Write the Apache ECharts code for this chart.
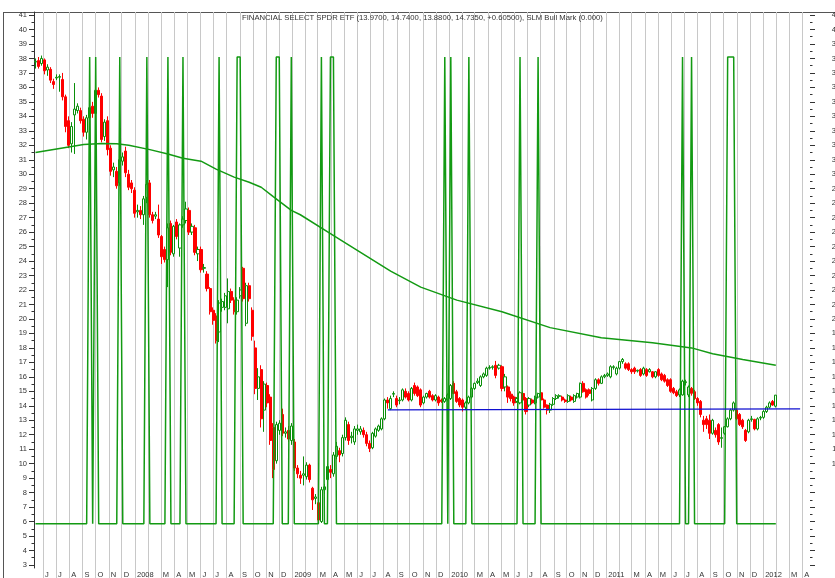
<!DOCTYPE html>
<html>
<head>
<meta charset="utf-8">
<title>Financial Select SPDR ETF</title>
<script src="https://cdn.jsdelivr.net/npm/echarts@6/dist/echarts.min.js"></script>
<style>
  html, body { margin: 0; padding: 0; background: #fff; }
  #main { width: 835px; height: 578px; }
</style>
</head>
<body>
<div id="main"></div>
<script>
var title = "FINANCIAL SELECT SPDR ETF (13.9700, 14.7400, 13.8800, 14.7350, +0.60500), SLM Bull Mark (0.000)";

// weekly bars, the first one is the week of 14 May 2007
var weekStart = [2007, 4, 14];

// [open, close, low, high] for each week
var ohlc = [
  [37.75, 37.8, 37.3, 38.0], [37.85, 37.45, 37.3, 38.1], [37.65, 38.0, 37.5, 38.2], [37.9, 37.15, 36.9, 38.0],
  [37.2, 37.4, 36.8, 37.6], [37.25, 36.5, 36.3, 37.4], [36.4, 36.2, 35.9, 36.6], [36.65, 36.7, 36.5, 36.9],
  [36.7, 36.75, 35.7, 36.9], [36.55, 35.35, 35.1, 37.0], [35.35, 33.3, 32.9, 35.5], [33.7, 32.0, 31.8, 34.0],
  [32.1, 33.3, 31.5, 33.6], [34.1, 34.5, 31.4, 36.3], [34.4, 34.7, 34.2, 34.9], [34.4, 33.7, 33.5, 34.6],
  [33.8, 32.9, 32.6, 34.0], [32.9, 33.9, 32.4, 34.1], [33.9, 34.6, 33.6, 34.8], [34.7, 34.2, 33.9, 35.0],
  [34.2, 35.8, 34.0, 36.0], [35.8, 35.5, 35.3, 36.0], [35.4, 32.4, 32.2, 35.6], [32.6, 33.6, 32.3, 33.8],
  [33.7, 31.7, 31.3, 34.0], [31.8, 30.2, 29.9, 32.0], [30.3, 30.5, 29.8, 30.8], [30.2, 29.2, 29.0, 30.5],
  [29.4, 31.0, 29.2, 31.2], [30.9, 31.2, 30.6, 31.5], [31.6, 30.1, 29.8, 31.9], [30.0, 29.1, 28.9, 30.3],
  [29.4, 29.0, 28.7, 29.6], [28.9, 27.3, 27.0, 29.1], [27.4, 27.5, 27.0, 27.9], [27.5, 27.2, 26.9, 27.8],
  [27.2, 28.3, 26.5, 28.5], [28.4, 29.3, 28.0, 29.6], [29.4, 27.2, 27.0, 29.6], [27.2, 26.8, 26.6, 27.4],
  [27.1, 27.2, 26.9, 27.4], [26.9, 25.8, 25.6, 27.9], [25.7, 24.3, 23.8, 25.8], [24.8, 24.1, 23.9, 25.0],
  [24.1, 26.3, 22.2, 26.6], [26.6, 24.6, 24.4, 26.8], [24.5, 26.4, 24.3, 26.5], [26.7, 25.7, 25.5, 26.9],
  [24.9, 26.5, 24.3, 26.6], [26.5, 26.9, 26.3, 27.1], [26.8, 27.6, 26.6, 28.1], [27.5, 26.0, 25.8, 27.7],
  [26.0, 26.4, 25.8, 26.6], [26.3, 24.6, 24.4, 26.5], [24.5, 24.8, 24.0, 25.0], [24.8, 23.4, 23.2, 25.0],
  [23.5, 23.55, 23.2, 23.8], [23.1, 22.1, 21.9, 23.3], [22.1, 20.5, 20.3, 22.2], [20.6, 19.9, 19.6, 20.8],
  [20.2, 18.5, 18.3, 20.4], [19.1, 21.1, 18.4, 21.3], [20.8, 21.2, 20.5, 21.4], [20.8, 21.6, 20.6, 21.8],
  [20.7, 21.9, 19.7, 22.8], [21.9, 21.3, 21.1, 22.1], [21.3, 20.5, 20.3, 21.5], [20.5, 21.3, 20.3, 21.5],
  [21.6, 22.0, 21.4, 22.2], [23.5, 21.4, 21.2, 23.6], [19.7, 22.3, 19.5, 22.5], [22.3, 21.4, 21.2, 22.5],
  [20.6, 18.8, 18.5, 20.8], [18.0, 15.2, 14.8, 18.5], [15.2, 16.0, 14.4, 16.6], [16.5, 13.1, 12.5, 16.8],
  [13.7, 15.5, 12.2, 15.7], [15.4, 14.2, 13.9, 15.6], [14.6, 11.6, 11.3, 14.8], [12.5, 9.6, 9.0, 12.8],
  [10.2, 12.7, 10.0, 12.9], [12.3, 12.8, 12.0, 13.0], [13.4, 12.1, 11.9, 13.8], [12.1, 12.2, 11.8, 12.5],
  [12.3, 11.7, 11.5, 12.6], [11.6, 12.6, 11.3, 12.8], [11.5, 9.7, 9.5, 11.7], [9.7, 9.3, 9.0, 9.9],
  [9.2, 9.0, 8.6, 9.5], [9.2, 9.3, 8.5, 10.5], [9.1, 9.9, 8.9, 10.1], [9.9, 8.9, 8.7, 10.0],
  [8.3, 7.5, 6.8, 8.4], [7.6, 7.7, 7.2, 7.9], [7.3, 6.1, 5.9, 7.4], [6.0, 8.2, 5.9, 8.4],
  [8.2, 8.4, 7.9, 8.6], [8.9, 9.8, 8.6, 10.0], [9.6, 9.4, 9.0, 9.9], [9.3, 10.6, 9.1, 10.8],
  [10.5, 11.2, 10.3, 11.5], [10.9, 10.6, 10.1, 11.1], [10.7, 11.8, 10.5, 12.0], [11.8, 13.0, 11.6, 13.2],
  [12.7, 11.6, 11.3, 12.9], [11.8, 11.9, 11.4, 12.2], [11.5, 12.4, 11.3, 12.6], [12.3, 12.4, 12.0, 12.7],
  [12.2, 12.4, 12.0, 12.6], [12.3, 12.0, 11.8, 12.5], [12.0, 11.4, 11.2, 12.2], [11.4, 11.05, 10.8, 11.6],
  [11.1, 12.1, 11.0, 12.2], [11.9, 12.4, 11.8, 12.5], [12.3, 12.6, 12.2, 12.7], [12.4, 13.1, 12.3, 13.2],
  [13.1, 14.4, 13.0, 14.5], [14.4, 14.2, 13.8, 14.6], [13.8, 14.5, 13.7, 14.7], [14.8, 14.85, 14.6, 15.0],
  [14.5, 14.05, 13.9, 14.7], [14.35, 14.4, 14.1, 14.6], [14.4, 15.1, 14.3, 15.2], [15.0, 14.6, 14.5, 15.2],
  [14.85, 14.4, 14.3, 15.0], [14.4, 15.2, 14.3, 15.3], [15.4, 14.85, 14.7, 15.6], [15.3, 14.7, 14.6, 15.4],
  [15.1, 14.05, 13.9, 15.2], [14.2, 14.6, 14.1, 14.7], [14.6, 14.85, 14.5, 14.9], [15.0, 14.6, 14.5, 15.1],
  [14.7, 14.4, 14.3, 14.8], [14.4, 14.7, 14.3, 14.8], [14.6, 14.2, 14.0, 14.7], [14.4, 14.3, 14.2, 14.5],
  [14.3, 14.5, 14.2, 14.6], [14.4, 14.75, 14.3, 14.85], [14.5, 15.4, 14.4, 15.5], [15.55, 14.85, 14.8, 15.7],
  [14.97, 14.3, 14.2, 15.1], [14.5, 14.05, 13.9, 14.6], [14.4, 13.9, 13.6, 14.5], [13.9, 14.2, 13.7, 14.3],
  [14.2, 14.6, 14.1, 14.7], [14.6, 15.2, 14.5, 15.3], [15.2, 15.55, 15.1, 15.6], [15.6, 15.7, 15.5, 15.9],
  [15.4, 16.0, 15.3, 16.1], [16.0, 16.2, 15.9, 16.3], [16.1, 16.6, 16.0, 16.7], [16.6, 16.65, 16.5, 16.8],
  [16.65, 16.7, 16.5, 16.8], [16.8, 16.1, 15.9, 17.1], [16.6, 16.8, 16.5, 16.9], [16.7, 15.2, 15.0, 16.8],
  [15.3, 16.0, 15.0, 16.2], [15.3, 14.6, 14.2, 15.4], [14.8, 14.5, 14.3, 15.0], [14.6, 14.2, 14.0, 14.7],
  [14.3, 14.5, 14.2, 14.6], [14.2, 14.9, 14.1, 15.0], [14.85, 14.4, 14.3, 15.0], [14.5, 13.6, 13.4, 14.6],
  [14.05, 14.5, 13.9, 14.6], [14.4, 14.2, 14.1, 14.5], [14.2, 14.6, 14.1, 14.7], [14.6, 14.85, 14.5, 14.9],
  [14.9, 14.4, 14.3, 15.0], [14.4, 13.9, 13.8, 14.5], [14.05, 13.7, 13.4, 14.1], [13.7, 14.1, 13.5, 14.2],
  [14.1, 14.5, 14.0, 14.6], [14.5, 14.7, 14.4, 14.8], [14.65, 14.7, 14.5, 14.8], [14.6, 14.4, 14.3, 14.7],
  [14.4, 14.3, 14.2, 14.5], [14.3, 14.7, 14.2, 14.8], [14.6, 14.4, 14.3, 14.7], [14.3, 14.7, 14.2, 14.8],
  [14.6, 14.85, 14.5, 14.9], [14.6, 15.55, 14.5, 15.6], [15.55, 14.97, 14.9, 15.7], [15.1, 14.6, 14.5, 15.2],
  [15.1, 14.85, 14.7, 15.2], [14.4, 15.2, 14.3, 15.3], [15.2, 15.8, 15.1, 15.9], [15.8, 15.55, 15.4, 15.9],
  [15.55, 16.0, 15.5, 16.1], [16.0, 16.1, 15.9, 16.2], [16.1, 16.2, 16.0, 16.3], [16.0, 16.7, 15.9, 16.8],
  [16.65, 16.7, 16.5, 16.8], [16.2, 16.6, 16.1, 16.7], [16.6, 17.05, 16.5, 17.1], [17.05, 17.2, 16.9, 17.3],
  [16.9, 16.6, 16.5, 17.0], [16.9, 16.5, 16.4, 17.0], [16.5, 16.35, 16.2, 16.6], [16.6, 16.35, 16.2, 16.7],
  [16.4, 16.45, 16.3, 16.5], [16.5, 16.1, 16.0, 16.6], [16.2, 16.6, 16.1, 16.7], [16.5, 16.1, 16.0, 16.6],
  [16.35, 16.5, 16.3, 16.6], [16.35, 16.0, 15.9, 16.4], [16.0, 16.35, 15.9, 16.4], [16.5, 16.1, 16.0, 16.6],
  [16.2, 15.8, 15.7, 16.3], [16.1, 15.7, 15.6, 16.2], [15.8, 15.4, 15.3, 15.9], [15.8, 15.0, 14.9, 15.9],
  [15.2, 14.9, 14.8, 15.3], [14.97, 14.7, 14.6, 15.1], [14.75, 15.1, 14.6, 15.2], [14.75, 15.7, 14.7, 15.8],
  [15.6, 15.66, 15.4, 15.8], [14.75, 15.3, 14.6, 15.4], [15.2, 14.86, 14.7, 15.3], [14.97, 14.5, 14.4, 15.1],
  [14.5, 14.2, 14.0, 14.6], [14.3, 13.4, 13.2, 14.4], [13.0, 12.7, 12.2, 13.3], [13.1, 12.7, 12.4, 13.3],
  [13.0, 12.1, 11.7, 13.4], [12.1, 13.0, 12.0, 13.1], [12.3, 12.0, 11.8, 12.5], [12.7, 11.5, 11.3, 12.8],
  [11.75, 11.8, 11.1, 12.5], [12.1, 12.55, 12.0, 12.6], [12.55, 13.1, 12.5, 13.2], [13.1, 13.7, 13.0, 13.8],
  [13.7, 14.2, 13.6, 14.3], [13.7, 13.1, 13.0, 13.8], [13.4, 12.7, 12.6, 13.5], [13.0, 12.55, 12.4, 13.1],
  [12.3, 11.6, 11.5, 12.4], [12.2, 13.0, 12.1, 13.1], [13.05, 13.1, 12.9, 13.3], [13.06, 12.4, 12.3, 13.1],
  [12.4, 13.1, 12.3, 13.2], [13.15, 13.2, 13.0, 13.3], [13.2, 13.6, 13.1, 13.7], [13.6, 13.9, 13.5, 14.0],
  [13.9, 14.2, 13.8, 14.3], [14.3, 14.05, 14.0, 14.4], [13.97, 14.735, 13.88, 14.74]
];

// weeks (first, last index) where the SLM Bull Mark is on
var bullRuns = [[18, 18], [20, 20], [28, 28], [37, 37], [44, 44], [49, 49], [61, 61], [67, 68], [80, 81],
  [85, 85], [95, 95], [98, 99], [136, 136], [138, 138], [144, 144], [161, 161], [167, 167], [215, 215],
  [218, 218], [230, 232]];
// off / on, as the indicator is laid over the price scale
var bullLevels = [5.85, 38.1];

// long moving average, [week index, value]
var maPoints = [
  [0, 31.5], [10, 31.85], [16, 32.05], [22, 32.13], [27, 32.1], [31, 32.0], [38, 31.7], [44, 31.4],
  [49, 31.1], [55, 30.9], [60, 30.35], [66, 29.8], [71, 29.45], [75, 29.1], [79, 28.45], [85, 27.5],
  [88, 27.2], [98, 25.9], [108, 24.6], [118, 23.3], [128, 22.2], [140, 21.3], [155, 20.5], [171, 19.4],
  [188, 18.7], [205, 18.35], [218, 18.0], [225, 17.6], [235, 17.2], [246, 16.8]
];

// blue support line
var trendLine = [['2009-08-11', 13.72], ['2012-03-27', 13.78]];

var yTicks = [3, 4, 5, 6, 7, 8, 9, 10, 11, 12, 13, 14, 15, 16, 17, 18, 19, 20, 21, 22, 23, 24, 25, 26, 27, 28,
  29, 30, 31, 32, 33, 34, 35, 36, 37, 38, 39, 40, 41];
var yMinorTicks = [3.5, 4.5, 5.5, 6.5, 7.5, 8.5, 9.5, 10.5, 11.5, 12.5, 13.5, 14.5, 15.5, 16.5, 17.5, 18.5,
  19.5, 20.5, 21.5, 22.5, 23.5, 24.5, 25.5, 26.5, 27.5, 28.5, 29.5, 30.5, 31.5, 32.5, 33.5, 34.5, 35.5, 36.5,
  37.5, 38.5, 39.5, 40.5];

var monthStarts = [
  '2007-06-01', '2007-07-01', '2007-08-01', '2007-09-01', '2007-10-01', '2007-11-01', '2007-12-01',
  '2008-01-01', '2008-02-01', '2008-03-01', '2008-04-01', '2008-05-01', '2008-06-01', '2008-07-01',
  '2008-08-01', '2008-09-01', '2008-10-01', '2008-11-01', '2008-12-01',
  '2009-01-01', '2009-02-01', '2009-03-01', '2009-04-01', '2009-05-01', '2009-06-01', '2009-07-01',
  '2009-08-01', '2009-09-01', '2009-10-01', '2009-11-01', '2009-12-01',
  '2010-01-01', '2010-02-01', '2010-03-01', '2010-04-01', '2010-05-01', '2010-06-01', '2010-07-01',
  '2010-08-01', '2010-09-01', '2010-10-01', '2010-11-01', '2010-12-01',
  '2011-01-01', '2011-02-01', '2011-03-01', '2011-04-01', '2011-05-01', '2011-06-01', '2011-07-01',
  '2011-08-01', '2011-09-01', '2011-10-01', '2011-11-01', '2011-12-01',
  '2012-01-01', '2012-02-01', '2012-03-01', '2012-04-01'
];
// January shows the year, February is hidden under it
var monthInitials = ['', '', 'M', 'A', 'M', 'J', 'J', 'A', 'S', 'O', 'N', 'D'];

var xRange = ['2007-05-11', '2012-04-19'];

var font = 'Liberation Sans, Arial, sans-serif';
var textColor = '#333';
var green = '#139a13';

function toTime(s) {
  var p = s.split('-');
  return new Date(+p[0], +p[1] - 1, +p[2]).getTime();
}

function weekDate(i) {
  return new Date(weekStart[0], weekStart[1], weekStart[2] + 7 * i, 12).getTime();
}

function isBull(i) {
  for (var k = 0; k < bullRuns.length; k++) {
    if (i >= bullRuns[k][0] && i <= bullRuns[k][1]) return true;
  }
  return false;
}

var candleData = ohlc.map(function (d, i) {
  return [weekDate(i), d[0], d[1], d[2], d[3]];
});
var bullData = ohlc.map(function (d, i) {
  return [weekDate(i), bullLevels[isBull(i) ? 1 : 0]];
});
var maData = maPoints.map(function (p) {
  return [weekDate(p[0]), p[1]];
});
var trendData = trendLine.map(function (p) {
  return [toTime(p[0]), p[1]];
});
var monthValues = monthStarts.map(toTime);

var chartDom = document.getElementById('main');
var myChart = echarts.init(chartDom, null, { renderer: 'canvas' });
var option;

function yAxisDef(position, ticks, tickLen, withLabels) {
  return {
    type: 'value',
    position: position,
    min: 2.79,
    max: 41.21,
    axisLine: { show: position === 'left' && withLabels, lineStyle: { color: '#333', width: 1 } },
    axisTick: { show: true, length: tickLen, customValues: ticks, lineStyle: { color: '#333', width: 1 } },
    axisLabel: withLabels ? {
      show: true,
      customValues: ticks,
      fontSize: 7.5,
      fontFamily: font,
      color: textColor,
      margin: position === 'left' ? 7 : 30,
      align: 'right'
    } : { show: false },
    splitLine: { show: false }
  };
}

option = {
  animation: false,
  backgroundColor: '#ffffff',
  title: {
    text: title,
    left: 242,
    top: 14,
    padding: 0,
    textStyle: { fontSize: 7.7, fontWeight: 'normal', fontFamily: font, color: textColor }
  },
  grid: { left: 34, right: 25, top: 12, bottom: 10, outerBoundsMode: 'none', containLabel: false },
  xAxis: {
    type: 'value',
    min: toTime(xRange[0]),
    max: toTime(xRange[1]),
    axisLine: { show: false },
    axisTick: { show: true, length: 12, customValues: monthValues, lineStyle: { color: '#c8c8c8', width: 1 } },
    axisLabel: {
      customValues: monthValues,
      hideOverlap: false,
      fontSize: 7.5,
      fontFamily: font,
      color: textColor,
      align: 'left',
      margin: 3,
      padding: [0, 0, 0, 2],
      formatter: function (v) {
        var d = new Date(v);
        return d.getMonth() === 0 ? String(d.getFullYear()) : monthInitials[d.getMonth()];
      }
    },
    splitLine: { show: true, lineStyle: { color: '#c8c8c8', width: 1 } }
  },
  yAxis: [
    yAxisDef('left', yTicks, 5, true),
    yAxisDef('left', yMinorTicks, 2.5, false),
    yAxisDef('right', yTicks, 5, true),
    yAxisDef('right', yMinorTicks, 2.5, false)
  ],
  graphic: [
    { type: 'line', silent: true, shape: { x1: 3, y1: 12.5, x2: 835, y2: 12.5 }, style: { stroke: '#555', lineWidth: 1 } },
    { type: 'line', silent: true, shape: { x1: 3.5, y1: 12, x2: 3.5, y2: 578 }, style: { stroke: '#555', lineWidth: 1 } }
  ],
  series: [
    {
      name: 'XLF',
      type: 'candlestick',
      data: candleData,
      encode: { x: 0, y: [1, 2, 3, 4] },
      barWidth: 2.6,
      itemStyle: {
        color: '#ffffff',
        color0: '#ff0000',
        borderColor: '#0a8f0a',
        borderColor0: '#ff0000',
        borderWidth: 1
      },
      z: 2
    },
    {
      name: 'Moving average',
      type: 'line',
      data: maData,
      showSymbol: false,
      lineStyle: { color: green, width: 1.5 },
      z: 3
    },
    {
      name: 'SLM Bull Mark',
      type: 'line',
      data: bullData,
      showSymbol: false,
      lineStyle: { color: green, width: 1.5 },
      z: 4
    },
    {
      name: 'Support',
      type: 'line',
      data: trendData,
      showSymbol: false,
      lineStyle: { color: '#1010d0', width: 1.3 },
      z: 5
    }
  ]
};

myChart.setOption(option);
</script>
</body>
</html>
